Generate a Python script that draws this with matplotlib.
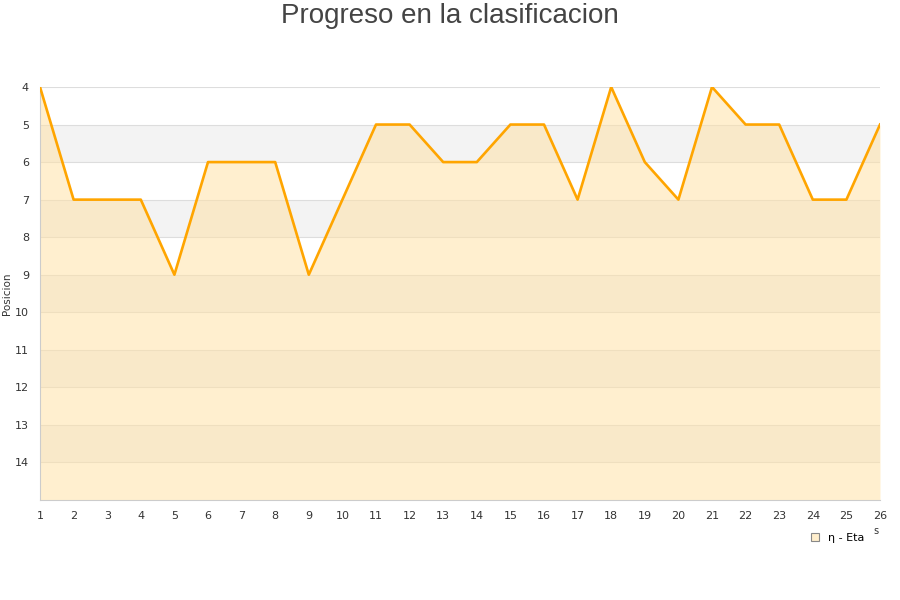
import matplotlib.pyplot as plt
from matplotlib.patches import Patch

jornadas = list(range(1, 27))
posicion = [4, 7, 7, 7, 9, 6, 6, 6, 9, 7, 5, 5, 6, 6, 5, 5, 7, 4, 6, 7, 4, 5, 5, 7, 7, 5]
y_ticks = list(range(4, 15))

fig = plt.figure(figsize=(9, 6), dpi=100)
ax = fig.add_axes([40 / 900, 100 / 600, 840 / 900, 413 / 600])

ax.set_xlim(1, 26)
ax.set_ylim(15, 4)

# alternating background bands
for y in range(4, 15):
    if y % 2 == 1:
        ax.axhspan(y, y + 1, color='#f3f3f3', zorder=0, lw=0)
    ax.axhline(y, color='#dddddd', lw=0.8, zorder=1)

ax.fill_between(jornadas, posicion, 15, color='#ffe2a8', alpha=0.55, lw=0, zorder=2)
ax.plot(jornadas, posicion, color='#ffa500', lw=1.9, zorder=3)

ax.set_xticks(jornadas)
ax.set_yticks(y_ticks)
ax.tick_params(length=0, labelsize=8, colors='#333333', pad=8)
for s in ['top', 'right']:
    ax.spines[s].set_visible(False)
for s in ['left', 'bottom']:
    ax.spines[s].set_color('#cccccc')
ax.set_ylabel('Posicion', fontsize=7.5, color='#333333', labelpad=2)

fig.text(0.5, 0.995, 'Progreso en la clasificacion', ha='center', va='top',
         fontsize=20, color='#444444', family='Liberation Sans')
fig.text(876 / 900, 1 - 531 / 600, 's', fontsize=7, color='#333333', ha='center', va='center')

handle = Patch(facecolor='#ffeecc', edgecolor='#888888', lw=0.8)
fig.legend([handle], ['η - Eta'], loc='center', bbox_to_anchor=(838 / 900, 1 - 538 / 600),
           frameon=False, fontsize=8, handlelength=0.7, handleheight=0.7, handletextpad=0.8)

fig.savefig('out.png', dpi=100)
